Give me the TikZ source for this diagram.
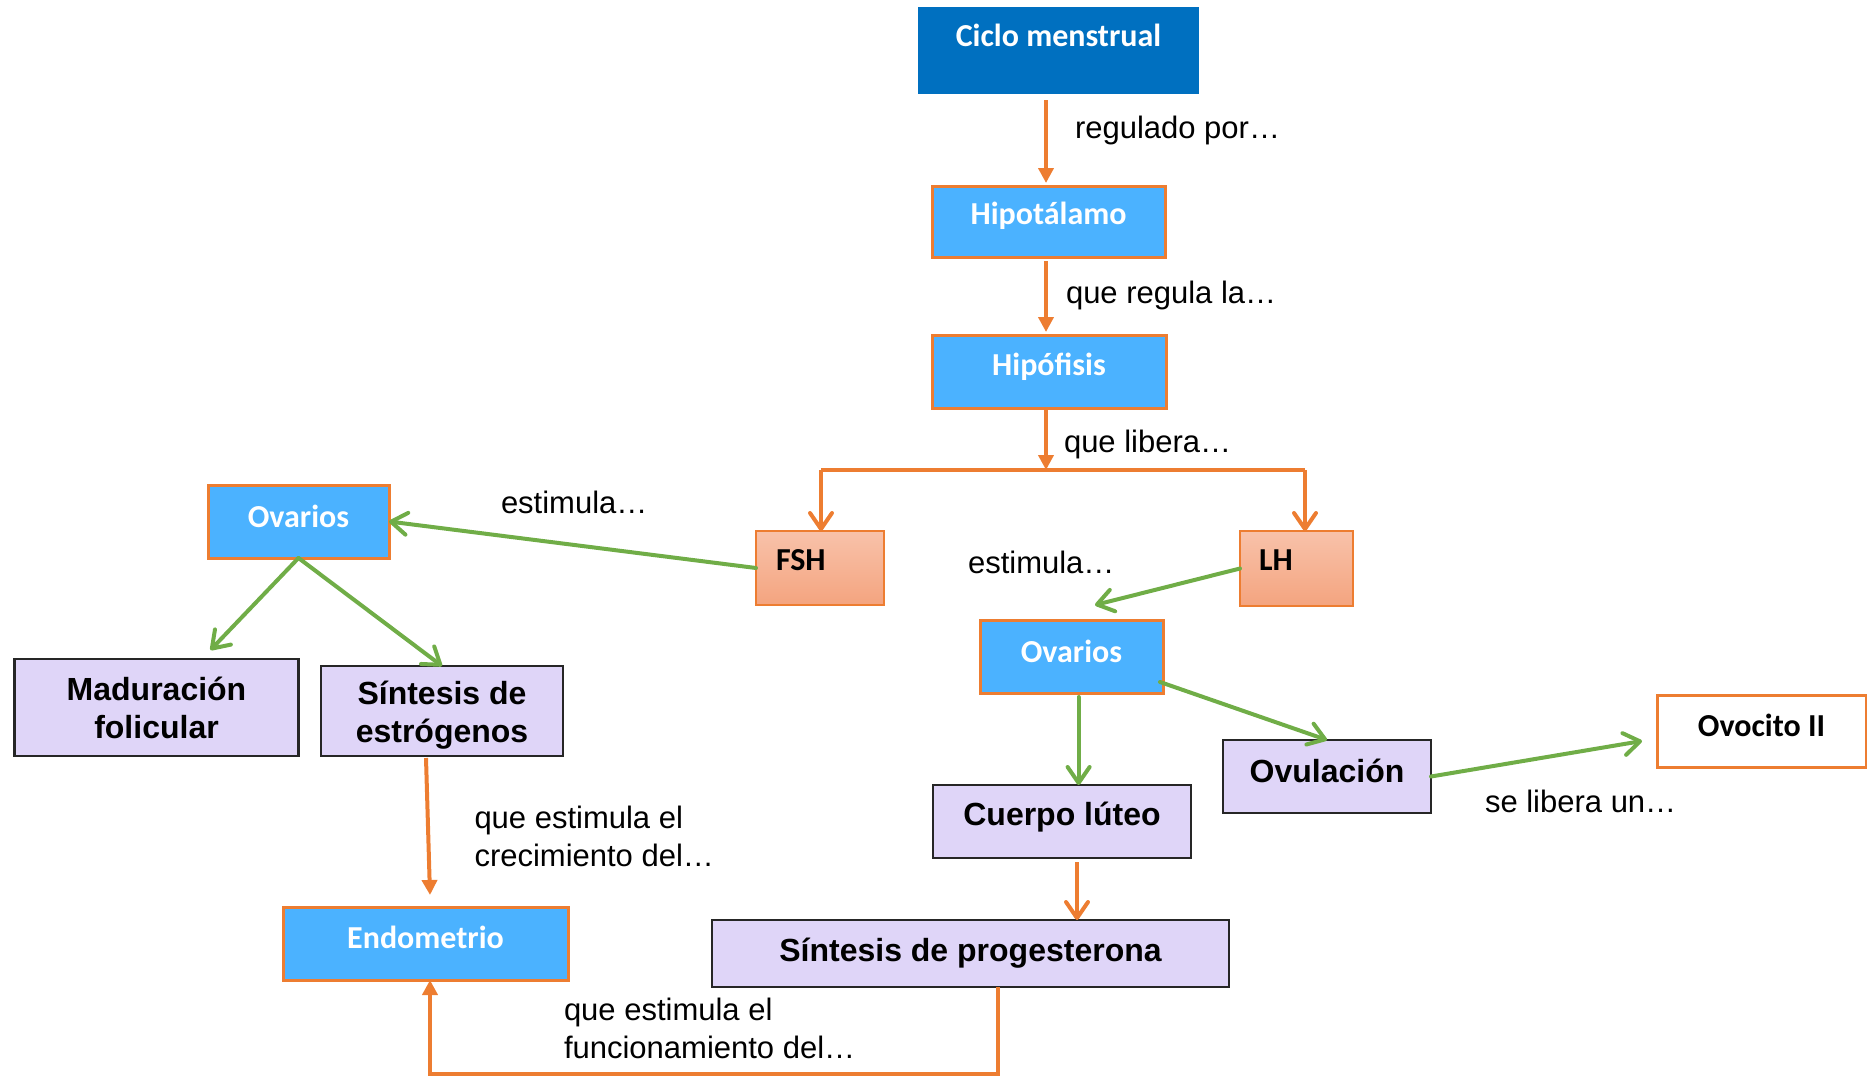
\documentclass[tikz,border=0pt]{standalone}
\usepackage{fontspec}
\setmainfont{Liberation Sans}
\newfontfamily\calibri{Carlito}
\usetikzlibrary{arrows.meta,calc}
\definecolor{dblue}{HTML}{0070C0}
\definecolor{lblue}{HTML}{4BB2FF}
\definecolor{orng}{HTML}{ED7D31}
\definecolor{grn}{HTML}{70AD47}
\definecolor{lav}{HTML}{DFD5F8}
\definecolor{peachT}{HTML}{F8C2AA}
\definecolor{peachB}{HTML}{F4A47F}
\newcommand\up[2]{\raisebox{#1}[\height][\depth]{#2}}
\begin{document}
\begin{tikzpicture}[x=0.5pt,y=-0.5pt,
  every node/.style={inner sep=0pt, outer sep=0pt},
  darkbox/.style={draw=dblue, line width=0.6pt, fill=dblue, text=white, font=\calibri\bfseries\fontsize{16pt}{19pt}\selectfont},
  bluebox/.style={draw=orng, line width=1.5pt, fill=lblue, text=white, font=\calibri\bfseries\fontsize{16pt}{19pt}\selectfont},
  peachbox/.style={draw=orng, line width=1pt, top color=peachT, bottom color=peachB, text=black, font=\calibri\bfseries\fontsize{16pt}{19pt}\selectfont, align=left},
  whitebox/.style={draw=orng, line width=1.5pt, fill=white, text=black, font=\calibri\bfseries\fontsize{16pt}{19pt}\selectfont},
  lavbox/.style={draw=black!85, line width=1.2pt, fill=lav, text=black, font=\bfseries\fontsize{16pt}{19pt}\selectfont, align=center},
  lbl/.style={text=black, font=\fontsize{15.5pt}{19pt}\selectfont},
  otri/.style={draw=orng, line width=2pt, -{Triangle[length=7.5pt,width=7.5pt]}},
  obarb/.style={draw=orng, line width=2pt, -{Straight Barb[length=8pt,width=11pt,round]}},
  gbarb/.style={draw=grn, line width=2pt, line cap=round, -{Straight Barb[length=8pt,width=11pt,round]}},
  oline/.style={draw=orng, line width=2pt}
]
\path[use as bounding box] (0,0) rectangle (1867,1076);

% boxes
\node[darkbox, minimum width=139.5pt, minimum height=42.5pt] (ciclo) at (1058.5,50.5) {\up{7.75pt}{Ciclo menstrual}};
\node[bluebox, minimum width=116.5pt, minimum height=35.5pt] (hipot) at (1048.5,221.5) {\up{2.75pt}{Hipotálamo}};
\node[bluebox, minimum width=117pt, minimum height=36.5pt] (hipof) at (1049,371.5) {\up{2.25pt}{Hipófisis}};
\node[peachbox, minimum width=64pt, minimum height=37pt, inner xsep=10pt, text width=44pt] (fsh) at (820,568) {\up{4pt}{FSH}};
\node[peachbox, minimum width=56.5pt, minimum height=37.5pt, inner xsep=9.5pt, text width=37.5pt] (lh) at (1296.5,568.5) {\up{4pt}{LH}};
\node[bluebox, minimum width=90.5pt, minimum height=36.5pt] (ovL) at (298.5,521.5) {\up{2.75pt}{Ovarios}};
\node[bluebox, minimum width=91.5pt, minimum height=36.5pt] (ovR) at (1071.5,656.5) {\up{2.75pt}{Ovarios}};
\node[bluebox, minimum width=142.5pt, minimum height=36.5pt] (endo) at (425.5,943.5) {\up{3.25pt}{Endometrio}};
\node[lavbox, minimum width=142pt, minimum height=48.5pt] (mad) at (156.5,707.5) {Maduración\\folicular};
\node[lavbox, minimum width=121pt, minimum height=45pt] (sinE) at (442,711) {\up{-2.5pt}{\begin{tabular}{@{}c@{}}Síntesis de\\estrógenos\end{tabular}}};
\node[lavbox, minimum width=129pt, minimum height=36.5pt] (cuerpo) at (1062,821.5) {\up{2pt}{Cuerpo lúteo}};
\node[lavbox, minimum width=104pt, minimum height=36.5pt] (ovul) at (1327,776.5) {\up{2.75pt}{Ovulación}};
\node[whitebox, minimum width=104.5pt, minimum height=36pt] (ovoc) at (1761.5,731) {\up{3pt}{Ovocito II}};
\node[lavbox, minimum width=258.5pt, minimum height=33.5pt] (sinP) at (970.5,953.5) {Síntesis de progesterona};

% labels
\node[lbl, anchor=base west] (l1) at (1075,138) {regulado por…};
\node[lbl, anchor=base west] (l2) at (1066,303) {que regula la…};
\node[lbl, anchor=base west] (l3) at (1064,452) {que libera…};
\node[lbl, anchor=base west] (l4) at (501,513) {estimula…};
\node[lbl, anchor=base west] (l5) at (968,573) {estimula…};
\node[lbl, anchor=base west] (l6) at (1485,812) {se libera un…};
\node[lbl, anchor=base west, align=left] (l7) at (474.5,866) {que estimula el\\crecimiento del…};
\node[lbl, anchor=base west, align=left] (l8) at (564,1058) {que estimula el\\funcionamiento del…};

% coordinates
\coordinate (jL) at (821,470);
\coordinate (jM) at (1046,470);
\coordinate (jR) at (1305,470);
\coordinate (cx) at (1078.6,0);
\coordinate (px) at (1077,0);
\coordinate (pbR) at (998,1074);
\coordinate (pbL) at (430,1074);

% orange connectors
\draw[otri] ($(ciclo.south)+(-12.5,7)$) -- ($(hipot.north)+(-2.5,-3)$);
\draw[otri] ($(hipot.south)+(-2.5,4)$) -- ($(hipof.north)+(-3,-3)$);
\draw[otri] (hipof.south -| jM) -- (jM);
\draw[oline] (jL) -- (jR);
\draw[obarb] (jL) -- (jL |- fsh.north);
\draw[obarb] (jR) -- (jR |- lh.north);
\draw[otri] ($(sinE.south)+(-16,2)$) -- ($(endo.north)+(4.5,-12)$);
\draw[obarb] ($(cuerpo.south -| px)+(0,4)$) -- (sinP.north -| px);
\draw[otri] (sinP.south -| pbR) -- (pbR) -- (pbL) -- (endo.south -| pbL);

% green connectors
\draw[gbarb] (fsh.west) -- (ovL.east);
\draw[gbarb] (ovL.south) -- ($(mad.north)+(54,-9)$);
\draw[gbarb] (ovL.south) -- (sinE.north);
\draw[gbarb] (lh.west) -- ($(ovR.north)+(23.5,-15)$);
\draw[gbarb] ($(ovR.south -| cx)+(0,4)$) -- (cuerpo.north -| cx);
\draw[gbarb] ($(ovR.east)+(-3,25.5)$) -- (ovul.north);
\draw[gbarb] (ovul.east) -- ($(ovoc.west)+(-15,10)$);
\end{tikzpicture}
\end{document}
